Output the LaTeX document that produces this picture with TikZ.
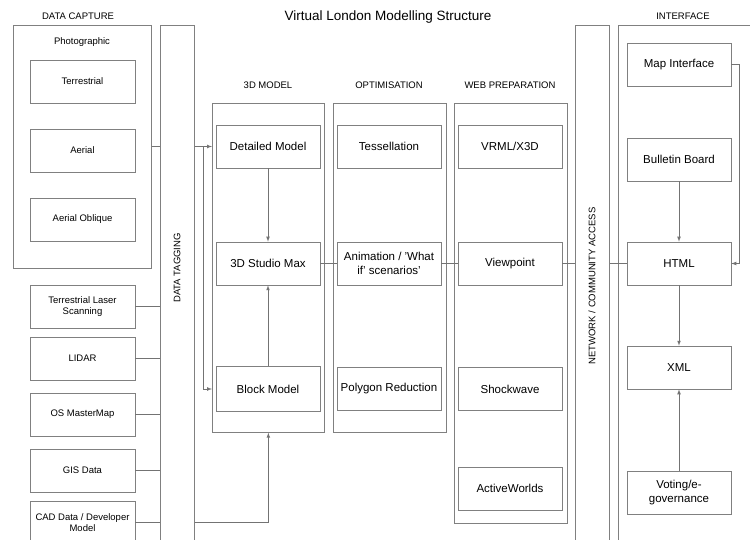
\documentclass[tikz,border=0pt]{standalone}
\usepackage{fontspec}
\setmainfont{Liberation Sans}
\usetikzlibrary{calc}
\newcommand{\bigfont}{\fontsize{11.5}{13.5}\selectfont}
\newcommand{\smallfont}{\fontsize{9.5}{11.5}\selectfont}
\newcommand{\link}[2]{\draw[wire] (#1) -- (#2)}

\begin{document}
\begin{tikzpicture}[x=1pt, y=-1pt, line width=0.7pt,
    every node/.style={inner sep=0pt},
    frame/.style={draw=black!50, anchor=north west},
    box/.style={draw=black!50, minimum width=104pt, minimum height=43pt, align=center, font=\bigfont},
    srcbox/.style={box, minimum width=105pt, font=\smallfont},
    heading/.style={font=\smallfont},
    wire/.style={draw=black!55}]
    \clip (0,0) rectangle (750,540);

    \node[font=\fontsize{13.5}{16}\selectfont] (title) at (388,17) {Virtual London Modelling Structure};
    \node[heading] (hcap) at (78,16) {DATA CAPTURE};
    \node[heading] (hint) at (683,16) {INTERFACE};
    \node[heading] (hmod) at (268,85) {3D MODEL};
    \node[heading] (hopt) at (389,85) {OPTIMISATION};
    \node[heading] (hweb) at (510,85) {WEB PREPARATION};

    \node[frame, minimum width=138pt, minimum height=243pt] (photo) at (13,25) {};
    \node[frame, minimum width=34pt, minimum height=530pt] (tag) at (160,25) {};
    \node[frame, minimum width=112pt, minimum height=329pt] (model) at (212,103) {};
    \node[frame, minimum width=113pt, minimum height=329pt] (optim) at (333,103) {};
    \node[frame, minimum width=113pt, minimum height=420pt] (web) at (454,103) {};
    \node[frame, minimum width=34pt, minimum height=530pt] (net) at (575,25) {};
    \node[frame, minimum width=200pt, minimum height=530pt] (iface) at (618,25) {};

    \node[heading, rotate=90] (tagtext) at (177,268) {DATA TAGGING};
    \node[heading, rotate=90] (nettext) at (592,286) {NETWORK / COMMUNITY ACCESS};

    \node[heading] (phototext) at (82,42) {Photographic};
    \node[srcbox] (terr) at (82.5,81.5) {Terrestrial};
    \node[srcbox] (aer) at (82.5,150.5) {Aerial};
    \node[srcbox] (obl) at (82.5,219.5) {Aerial Oblique};
    \node[srcbox] (tls) at (82.5,306.5) {Terrestrial Laser\\Scanning};
    \node[srcbox] (lidar) at (82.5,358.5) {LIDAR};
    \node[srcbox] (os) at (82.5,414.5) {OS MasterMap};
    \node[srcbox] (gis) at (82.5,470.5) {GIS Data};
    \node[srcbox] (cad) at (82.5,522.5) {CAD Data / Developer\\Model};

    \node[box] (dm) at (268,146.5) {Detailed Model};
    \node[box] (sm) at (268,263.5) {3D Studio Max};
    \node[box, minimum height=45pt] (bm) at (268,389) {Block Model};

    \node[box] (tess) at (389,146.5) {Tessellation};
    \node[box] (anim) at (389,263.5) {Animation / 'What\\if' scenarios'};
    \node[box] (poly) at (389,389) {Polygon Reduction};

    \node[box] (vrml) at (510,146.5) {VRML/X3D};
    \node[box] (vp) at (510,263.5) {Viewpoint};
    \node[box] (shock) at (510,389) {Shockwave};
    \node[box] (aw) at (510,488.5) {ActiveWorlds};

    \node[box] (map) at (679,64.5) {Map Interface};
    \node[box] (bb) at (679,159.5) {Bulletin Board};
    \node[box] (html) at (679,263.5) {HTML};
    \node[box] (xml) at (679,367.5) {XML};
    \node[box] (vote) at (679,492.5) {Voting/e-\\governance};

    \coordinate (tap) at (203,146.5);

    \link{photo.east |- dm}{tag.west |- dm};
    \link{tls.east}{tag.west |- tls};
    \link{lidar.east}{tag.west |- lidar};
    \link{os.east}{tag.west |- os};
    \link{gis.east}{tag.west |- gis};
    \link{cad.east}{tag.west |- cad};

    \draw[wire, -latex] (tag.east |- dm) -- (model.west |- dm);
    \draw[wire, -latex] (tap) |- (model.west |- bm);
    \draw[wire, -latex] (tag.east |- cad) -| (model.south);

    \draw[wire, -latex] (dm) -- (sm);
    \draw[wire, -latex] (bm) -- (sm);

    \link{sm.east}{anim.west};
    \link{anim.east}{vp.west};
    \link{vp.east}{net.west |- vp};
    \link{net.east |- html}{html.west};

    \draw[wire, -latex] (map.east) -- ++(8,0) |- (html.east);
    \draw[wire, -latex] (bb) -- (html);
    \draw[wire, -latex] (html) -- (xml);
    \draw[wire, -latex] (vote) -- (xml);
\end{tikzpicture}
\end{document}
